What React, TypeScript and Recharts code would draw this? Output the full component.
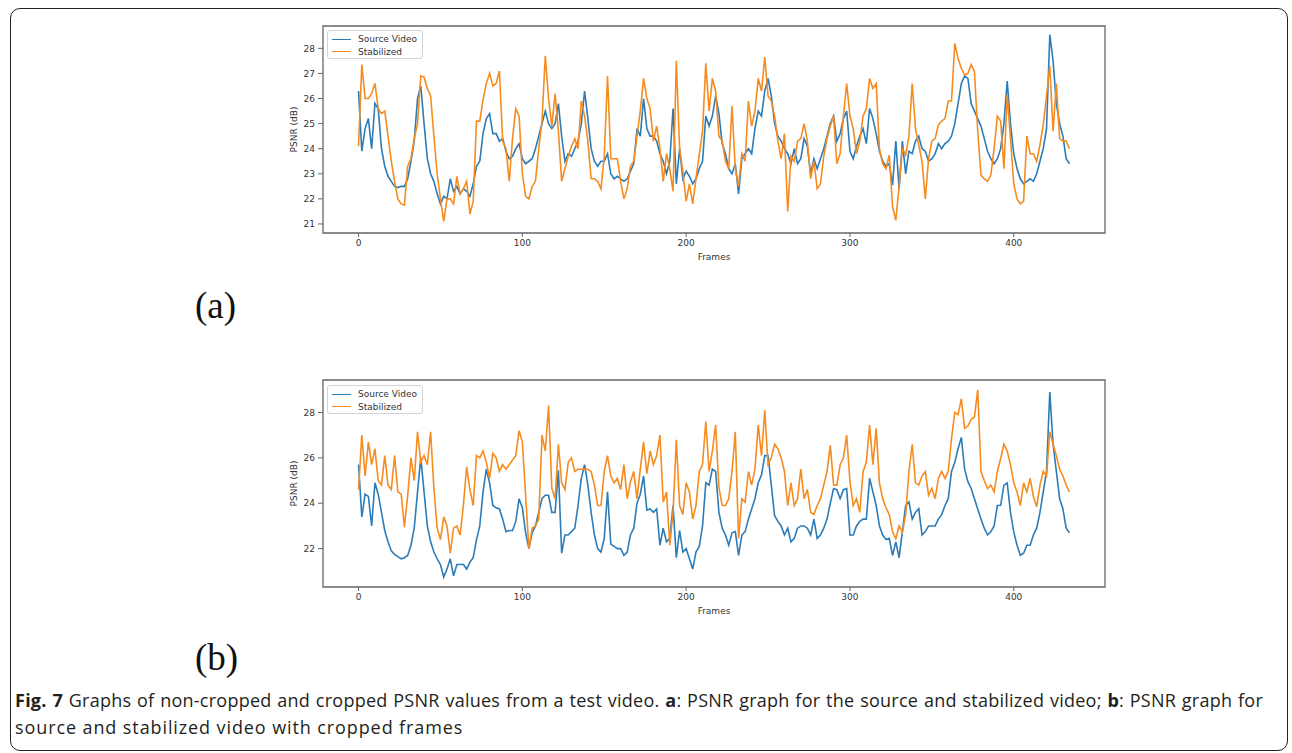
import React from 'react';
import { LineChart, Line, XAxis, YAxis, ReferenceArea } from 'recharts';

// frame index of every sample (every 2nd frame of the 435-frame clip)
const frames = Array.from({ length: 218 }, (_, i) => i * 2);

const xTicks = [0, 100, 200, 300, 400];
const yTicksA = [21, 22, 23, 24, 25, 26, 27, 28];
const yTicksB = [22, 24, 26, 28];

// (a) non-cropped PSNR
const sourceA = [
  26.3, 23.9, 24.8, 25.2, 24.0, 25.8, 25.6, 24.0, 23.3, 22.9,
  22.7, 22.5, 22.45, 22.5, 22.5, 22.8, 23.5, 24.3, 26.0, 26.5,
  25.0, 23.6, 23.0, 22.7, 22.2, 21.8, 22.1, 22.0, 22.8, 22.3,
  22.5, 22.2, 22.4, 22.3, 22.1, 22.6, 23.3, 23.5, 24.6, 25.2,
  25.4, 24.6, 24.6, 24.3, 24.4, 23.9, 23.6, 23.7, 24.0, 24.2,
  23.6, 23.4, 23.5, 23.6, 24.0, 24.5, 25.0, 25.5, 25.0, 24.8,
  25.0, 25.8, 24.5, 23.5, 23.8, 23.7, 24.0, 24.3, 25.0, 26.3,
  25.2, 24.0, 23.5, 23.3, 23.5, 23.5, 23.8, 23.0, 22.8, 22.9,
  22.8, 22.7, 22.8, 23.1, 23.4, 24.8, 24.5, 26.0, 24.8, 24.5,
  24.5, 24.3, 23.8, 23.5, 23.0, 23.5, 25.6, 22.6, 24.0, 22.8,
  23.1, 22.9, 22.6, 22.8, 23.2, 23.5, 25.3, 24.9, 25.3, 26.1,
  25.4, 24.2, 23.8, 23.2, 23.0, 23.4, 22.2, 23.6, 23.8, 24.0,
  23.8, 24.8, 25.5, 25.3, 26.3, 26.8, 26.1, 25.0, 24.5, 24.3,
  24.0, 23.8, 23.4, 24.0, 23.4, 23.6, 24.4, 24.1, 23.0, 23.6,
  23.2, 23.6, 24.0, 24.5, 25.0, 25.3, 24.3, 24.6, 25.2, 25.5,
  23.9, 23.6, 24.1, 24.5, 24.8, 24.2, 25.6, 25.2, 24.6, 23.9,
  23.5, 23.3, 23.4, 22.55, 24.3, 22.4, 24.3, 23.0, 23.9, 23.8,
  24.3, 24.5, 24.0, 23.9, 23.5, 23.6, 23.8, 24.2, 24.0, 24.2,
  24.3, 24.5, 25.0, 25.8, 26.6, 26.9, 26.8, 25.8, 25.5, 25.2,
  24.9, 24.4, 23.9, 23.6, 23.4, 23.6, 24.0, 25.0, 26.7, 25.0,
  23.8, 23.2, 22.8, 22.6, 22.7, 22.8, 22.7, 23.0, 23.5, 24.0,
  24.8, 28.55, 27.5, 25.8, 25.0, 24.5, 23.6, 23.4,
];

const stabilizedA = [
  24.1, 27.35, 26.0, 26.0, 26.2, 26.6, 25.6, 25.4, 25.5, 24.5,
  23.5, 22.7, 22.0, 21.8, 21.75, 23.3, 23.6, 24.4, 25.0, 26.9,
  26.85, 26.4, 26.1, 24.5, 23.0, 22.0, 21.1, 22.0, 22.0, 21.8,
  22.9, 22.2, 22.4, 22.7, 21.4, 21.9, 25.1, 25.1, 25.95, 26.6,
  27.0, 26.5, 26.6, 27.1, 24.3, 24.0, 22.7, 24.4, 25.6, 25.3,
  23.0, 22.1, 22.0, 22.5, 22.7, 24.0, 25.1, 27.7, 26.0, 24.9,
  26.2, 24.7, 22.7, 23.2, 23.7, 24.1, 24.4, 24.0, 25.9, 25.3,
  24.3, 22.8, 22.8, 22.7, 22.4, 23.7, 26.9, 23.6, 23.6, 23.6,
  22.7, 22.0, 22.4, 23.3, 23.5, 24.5, 25.5, 26.8, 26.0, 25.6,
  24.3, 24.9, 24.0, 22.7, 23.8, 23.2, 22.3, 27.5, 24.0, 23.1,
  21.9, 22.6, 21.8, 22.8, 23.75, 24.7, 27.4, 25.5, 26.8, 26.3,
  24.5, 24.3, 23.5, 23.2, 25.7, 23.2, 22.5, 23.8, 23.5, 25.9,
  24.9, 25.5, 26.8, 26.3, 27.65, 26.1, 25.9, 25.3, 24.3, 23.6,
  24.6, 21.5, 23.7, 23.5, 24.3, 24.4, 25.0, 24.3, 22.8, 23.5,
  22.4, 22.6, 23.7, 24.4, 24.9, 25.3, 23.4, 23.8, 25.3, 26.6,
  25.3, 24.8, 23.8, 24.3, 25.3, 25.6, 26.8, 26.4, 26.6, 24.0,
  23.4, 23.2, 23.75, 21.7, 21.15, 22.5, 24.0, 23.75, 24.5, 26.6,
  24.8, 24.15, 23.5, 22.0, 23.6, 24.3, 24.4, 24.95, 25.1, 25.2,
  25.9, 25.9, 28.2, 27.6, 27.2, 26.94, 27.0, 27.35, 27.07, 24.7,
  22.95, 22.8, 22.7, 22.95, 24.0, 25.3, 25.1, 23.2, 26.15, 24.4,
  22.6, 22.0, 21.8, 21.9, 24.5, 23.8, 23.8, 23.5, 24.15, 24.95,
  26.1, 27.3, 24.7, 26.6, 24.4, 24.3, 24.3, 24.0,
];

// (b) cropped PSNR
const sourceB = [
  25.7, 23.4, 24.4, 24.3, 23.0, 24.9, 24.4, 23.6, 22.8, 22.3,
  21.9, 21.75, 21.65, 21.55, 21.6, 21.7, 22.15, 22.9, 24.5, 26.0,
  24.5, 23.0, 22.3, 21.85, 21.55, 21.3, 20.75, 21.1, 21.55, 20.8,
  21.3, 21.3, 21.3, 21.1, 21.4, 21.6, 22.4, 23.0, 24.5, 25.5,
  24.9, 23.9, 23.8, 23.75, 23.3, 22.75, 22.8, 22.8, 23.2, 24.2,
  23.8, 22.7, 22.0, 22.7, 23.0, 23.6, 24.2, 24.35, 24.35, 23.6,
  23.6, 25.45, 21.8, 22.6, 22.6, 22.75, 22.9, 23.9, 25.1, 25.7,
  24.8, 23.6, 22.6, 22.0, 21.85, 22.45, 24.5, 22.2, 22.1, 22.0,
  22.0, 21.7, 21.85, 22.6, 22.9, 24.0, 24.4, 25.2, 23.7, 23.75,
  23.6, 23.75, 22.15, 22.9, 22.3, 22.45, 23.9, 21.6, 22.8, 21.85,
  22.0, 21.55, 21.1, 21.85, 22.1, 23.0, 24.9, 24.8, 25.5, 25.4,
  23.6, 22.9, 22.6, 22.15, 22.7, 22.75, 21.7, 22.6, 22.75, 23.3,
  23.75, 24.2, 24.9, 25.25, 26.1, 26.1, 24.8, 23.45, 23.2, 23.0,
  22.6, 22.9, 22.3, 22.45, 22.9, 23.0, 23.0, 22.9, 22.6, 23.3,
  22.45, 22.6, 22.9, 23.3, 24.0, 24.65, 24.6, 24.2, 24.6, 24.65,
  22.6, 22.6, 23.0, 23.2, 23.3, 23.3, 25.1, 24.5, 23.9, 23.0,
  22.6, 22.4, 22.45, 21.7, 22.3, 21.6, 22.75, 23.9, 24.06, 23.3,
  23.6, 23.76, 22.6, 22.75, 23.0, 23.0, 23.0, 23.3, 23.5, 23.9,
  24.2, 25.4, 25.8, 26.4, 26.9, 25.5, 24.95, 24.65, 24.2, 23.75,
  23.3, 22.9, 22.6, 22.74, 23.0, 23.9, 23.91, 24.8, 24.9, 23.6,
  22.74, 22.15, 21.71, 21.8, 22.15, 22.15, 22.6, 22.9, 23.6, 24.5,
  25.4, 28.9, 26.6, 25.4, 24.2, 23.76, 22.9, 22.7,
];

const stabilizedB = [
  24.6, 27.0, 25.2, 26.7, 25.7, 26.4, 25.0, 24.8, 26.1, 24.8,
  24.6, 26.1, 24.5, 24.4, 22.95, 24.35, 26.0, 25.0, 27.15, 25.8,
  26.1, 25.7, 27.15, 24.65, 22.9, 22.4, 23.4, 23.0, 21.8, 22.9,
  23.0, 22.6, 23.9, 25.6, 24.6, 23.9, 26.1, 26.0, 26.3, 25.8,
  25.1, 26.2, 26.0, 25.4, 25.7, 25.5, 25.7, 25.9, 26.1, 27.2,
  26.7, 24.35, 22.0, 22.9, 23.0, 23.3, 27.0, 26.3, 28.3, 24.65,
  24.2, 26.6, 24.9, 24.6, 25.8, 26.0, 25.4, 25.5, 25.5, 25.5,
  25.5, 25.4, 24.8, 23.9, 23.9, 25.4, 26.1, 25.2, 24.9, 25.1,
  24.6, 25.7, 24.2, 24.95, 25.4, 24.2, 25.5, 26.7, 25.3, 26.3,
  25.7, 26.1, 27.0, 24.05, 24.5, 22.15, 23.6, 26.8, 23.9, 23.5,
  24.9, 24.5, 23.3, 23.9, 25.4, 25.7, 27.6, 25.4, 26.3, 27.45,
  24.7, 23.9, 23.9, 24.2, 25.4, 27.15, 22.45, 24.2, 24.05, 25.4,
  24.8, 25.5, 27.45, 26.1, 28.1, 25.7, 26.0, 26.6, 26.4, 26.0,
  25.4, 23.9, 24.9, 23.9, 24.2, 25.5, 24.2, 24.6, 23.6, 23.5,
  23.9, 24.2, 24.8, 25.4, 26.55, 24.8, 24.8, 25.7, 26.0, 27.0,
  24.95, 23.9, 24.2, 23.6, 25.4, 25.8, 27.45, 25.7, 27.3, 24.9,
  24.2, 23.8, 23.5, 22.74, 22.44, 23.0, 22.74, 23.5, 25.4, 26.6,
  24.9, 24.8, 25.2, 25.4, 24.35, 24.65, 24.2, 25.1, 25.4, 25.1,
  25.4, 26.85, 28.0, 27.9, 28.6, 27.3, 27.4, 27.7, 27.8, 29.0,
  25.4, 25.0, 24.65, 24.8, 24.5, 25.4, 25.97, 26.6, 26.3, 25.7,
  24.9, 24.5, 23.9, 24.9, 24.5, 25.1, 24.3, 23.85, 24.8, 25.4,
  25.2, 27.15, 26.6, 26.1, 25.5, 25.2, 24.8, 24.5,
];

const SRC_COLOR = '#2c7cb8';
const STAB_COLOR = '#f68b1f';
const AXIS_COLOR = '#666';
const FONT = "'DejaVu Sans', sans-serif";
const X_DOMAIN: [number, number] = [-21.7, 455.7];

const buildRows = (src: number[], stab: number[]) =>
  frames.map((frame, i) => ({ frame, src: src[i], stab: stab[i] }));

const dataA = buildRows(sourceA, stabilizedA);
const dataB = buildRows(sourceB, stabilizedB);

const tickStyle = { fontSize: 9, fill: '#333', fontFamily: FONT };

const PsnrChart: React.FC<{
  data: { frame: number; src: number; stab: number }[];
  yDomain: [number, number];
  yTicks: number[];
}> = ({ data, yDomain, yTicks }) => (
  <LineChart width={842} height={255} data={data} margin={{ top: 10, right: 10, bottom: 0, left: 0 }}>
    <XAxis
      dataKey="frame"
      type="number"
      domain={X_DOMAIN}
      allowDataOverflow
      ticks={xTicks}
      height={38}
      tick={tickStyle}
      tickSize={4}
      tickMargin={3}
      axisLine={false}
      tickLine={{ stroke: AXIS_COLOR }}
      label={{ value: 'Frames', position: 'insideBottom', offset: 11, style: { fontSize: 9, fill: '#333', fontFamily: FONT } }}
    />
    <YAxis
      type="number"
      domain={yDomain}
      allowDataOverflow
      ticks={yTicks}
      width={50}
      tick={tickStyle}
      tickSize={5}
      tickMargin={3}
      axisLine={false}
      tickLine={{ stroke: AXIS_COLOR }}
      label={{
        value: 'PSNR (dB)',
        angle: -90,
        position: 'insideLeft',
        offset: 21,
        style: { textAnchor: 'middle', fontSize: 9, fill: '#333', fontFamily: FONT },
      }}
    />
    <Line type="linear" dataKey="src" stroke={SRC_COLOR} strokeWidth={1.6} dot={false} isAnimationActive={false} />
    <Line type="linear" dataKey="stab" stroke={STAB_COLOR} strokeWidth={1.6} dot={false} isAnimationActive={false} />
    <ReferenceArea
      x1={X_DOMAIN[0]}
      x2={X_DOMAIN[1]}
      y1={yDomain[0]}
      y2={yDomain[1]}
      fill="none"
      stroke={AXIS_COLOR}
      strokeWidth={1.3}
      ifOverflow="visible"
    />
  </LineChart>
);

const LegendBox: React.FC<{ left: number; top: number }> = ({ left, top }) => {
  const row = (color: string, text: string) => (
    <div style={{ display: 'flex', alignItems: 'center', height: 12.5 }}>
      <span style={{ display: 'inline-block', width: 19, borderTop: `1.5px solid ${color}`, margin: '0 7px 0 4px' }} />
      <span>{text}</span>
    </div>
  );
  return (
    <div
      style={{
        position: 'absolute',
        left,
        top,
        width: 96,
        height: 29,
        boxSizing: 'border-box',
        border: '1px solid #d4d4d4',
        borderRadius: 3,
        background: 'rgba(255,255,255,0.85)',
        fontFamily: FONT,
        fontSize: 9,
        color: '#333',
        paddingTop: 2,
      }}
    >
      {row(SRC_COLOR, 'Source Video')}
      {row(STAB_COLOR, 'Stabilized')}
    </div>
  );
};

const panelLabel: React.CSSProperties = {
  position: 'absolute',
  left: 195,
  fontFamily: "'Liberation Serif', 'Times New Roman', serif",
  fontSize: 37,
  lineHeight: 1,
  color: '#111',
};

export default function App() {
  return (
    <div
      style={{
        position: 'absolute',
        left: 0,
        top: 0,
        width: 1292,
        height: 753,
        overflow: 'hidden',
        background: '#fff',
      }}
    >
      <div
        style={{
          position: 'absolute',
          left: 10,
          top: 8,
          width: 1278,
          height: 743,
          boxSizing: 'border-box',
          border: '1.5px solid #222',
          borderRadius: 10,
        }}
      />

      <div style={{ position: 'absolute', left: 273, top: 16 }}>
        <PsnrChart data={dataA} yDomain={[20.64, 28.89]} yTicks={yTicksA} />
      </div>
      <LegendBox left={327} top={30} />
      <div style={{ ...panelLabel, top: 287 }}>(a)</div>

      <div style={{ position: 'absolute', left: 273, top: 370 }}>
        <PsnrChart data={dataB} yDomain={[20.31, 29.43]} yTicks={yTicksB} />
      </div>
      <LegendBox left={327} top={385} />
      <div style={{ ...panelLabel, top: 639 }}>(b)</div>

      <div
        style={{
          position: 'absolute',
          left: 15,
          top: 687,
          fontFamily: "'Open Sans', 'Noto Sans', sans-serif",
          fontSize: 18,
          lineHeight: '27px',
          color: '#231f20',
        }}
      >
        <div
          style={{
            width: 1248,
            whiteSpace: 'nowrap',
            letterSpacing: 0.25,
            textAlign: 'justify',
            textAlignLast: 'justify',
          }}
        >
          <b>Fig. 7</b> Graphs of non-cropped and cropped PSNR values from a test video. <b>a</b>: PSNR graph for the
          source and stabilized video; <b>b</b>: PSNR graph for
        </div>
        <div style={{ whiteSpace: 'nowrap', letterSpacing: 0.9 }}>source and stabilized video with cropped frames</div>
      </div>
    </div>
  );
}
